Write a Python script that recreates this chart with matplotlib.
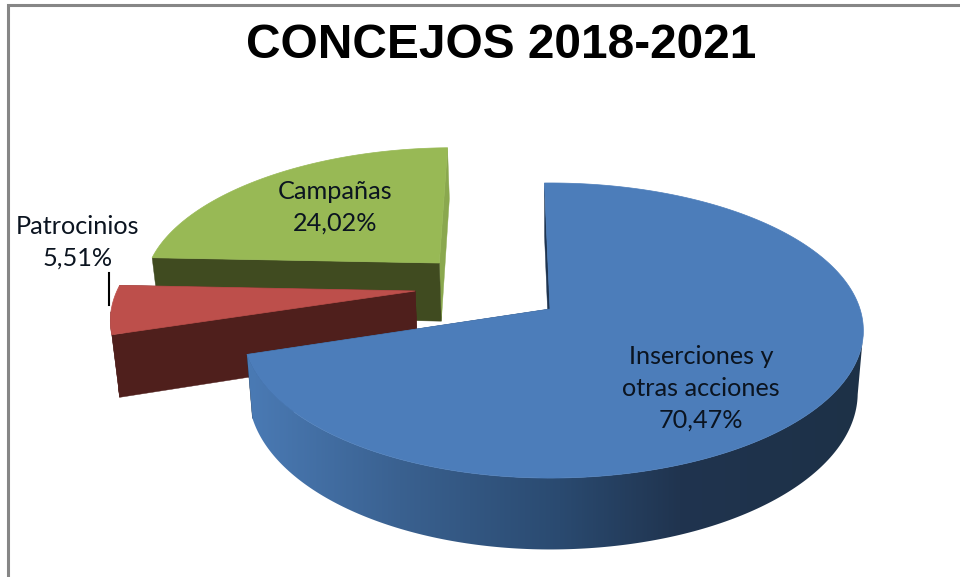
#! /usr/bin/env python3
# -*- coding: utf-8 -*-
'''
exploded 3d looking pie, drawn by hand because
matplotlib has no perspective pie.
'''

import numpy as np
import matplotlib
matplotlib.use('Agg')
import matplotlib.pyplot as plt
from matplotlib.patches import Polygon
from matplotlib.colors import to_rgb

title = 'CONCEJOS 2018-2021'
# clockwise from the top of the pie
categories = ['Inserciones y\notras acciones', 'Patrocinios', 'Campañas']
values = [70.47, 5.51, 24.02]
value_labels = ['70,47%', '5,51%', '24,02%']

top_colors = ['#4c7dba', '#bd4f4b', '#98b955']
wall_colors = ['#1e3450', '#4f1f1c', '#404b20']
end_wall_colors = ['#1e3450', '#4f1f1c', '#8aa84e']
# how far each slice is pulled out of the pie
explode_u = [0.0, -0.452, -0.382]
explode_v = [0.0, 0.127, 0.334]
label_x = [701, 78, 335]
label_y = [388, 242, 207]

# projection of the pie plane to pixels
CX, CY = 550, 309
SX, SY = 310, 144.4
LEFT_SQUEEZE = 0.98
PERSP = 0.1458
DEPTH = 61
BOTTOM_SCALE = 0.982
ROTATION = -1.2

# blue rim shading, left to right on the screen
shade_x = [250, 400, 560, 680, 860]
shade_c = ['#4a7ab4', '#3a6190', '#2a4a70', '#20344f', '#1d3147']


def project(u, v, down=False):
    '''pie plane to pixels, down=True gives the lower rim
    '''
    d = 1 + PERSP * v
    x = SX * np.where(u < 0, u * LEFT_SQUEEZE, u) / d
    y = CY - SY * v / d
    if down:
        x = x * BOTTOM_SCALE
        y = y + DEPTH / d
    return np.column_stack((CX + x, y))


def wall_outline(uu, vv):
    return np.vstack((project(uu, vv), project(uu, vv, down=True)[::-1]))


def flat_wall(ax, uu, vv, color):
    ax.add_patch(Polygon(wall_outline(uu, vv), closed=True, facecolor=color,
                         edgecolor=color, linewidth=0.3))


def shaded_wall(ax, uu, vv):
    xs = np.linspace(230, 880, 651)
    rgb = np.array([to_rgb(c) for c in shade_c])
    grad = np.stack([np.interp(xs, shade_x, rgb[:, i]) for i in range(3)], axis=1)
    # images default to zorder 0, keep this one in drawing order with the patches
    im = ax.imshow(grad[np.newaxis, :, :], extent=[230, 880, 577, 0], aspect='auto',
                   interpolation='bilinear', zorder=1)
    clip = Polygon(wall_outline(uu, vv), closed=True, transform=ax.transData)
    im.set_clip_path(clip)


def draw_slice(ax, start, end, ou, ov, top, side, end_side, shaded):
    t = np.radians(np.linspace(start, end, 300))
    uu = ou + np.sin(t)
    vv = ov + np.cos(t)
    # the cut face at the far end is behind the rim
    flat_wall(ax, np.array([ou, uu[-1]]), np.array([ov, vv[-1]]), end_side)
    # only the part of the rim that faces the viewer
    front = np.cos(t) < -PERSP
    if front.sum() > 1:
        if shaded:
            shaded_wall(ax, uu[front], vv[front])
        else:
            flat_wall(ax, uu[front], vv[front], side)
    flat_wall(ax, np.array([ou, uu[0]]), np.array([ov, vv[0]]), side)
    face = np.vstack((project(np.array([ou]), np.array([ov])), project(uu, vv)))
    ax.fill(face[:, 0], face[:, 1], facecolor=top, edgecolor=top, linewidth=0.5)


def main():
    fig = plt.figure(figsize=(9.6, 5.77), dpi=100)
    ax = fig.add_axes([0, 0, 1, 1])
    ax.axis('off')

    # chart frame, only top and left are in the crop
    ax.plot([8, 8, 960], [577, 5, 5], color='#868686', lw=2.2, solid_joinstyle='miter')

    angles = np.cumsum([0] + values) / np.sum(values) * 360 + ROTATION
    # back slices first
    for i in [2, 1, 0]:
        draw_slice(ax, angles[i], angles[i + 1], explode_u[i], explode_v[i],
                   top_colors[i], wall_colors[i], end_wall_colors[i], i == 0)

    # leader of the small slice
    ax.plot([109, 109], [273, 305], color='black', lw=1.5)

    for name, val, x, y in zip(categories, value_labels, label_x, label_y):
        ax.text(x, y, name + '\n' + val, family='Lato', fontsize=18.2, color='#0b1420',
                ha='center', va='center', linespacing=1.47)

    ax.text(501, 46, title, family='Liberation Sans', weight='bold',
            fontsize=34.5, color='black', ha='center', va='center')

    ax.set_xlim(0, 960)
    ax.set_ylim(577, 0)
    fig.savefig('out.png', dpi=100)


if __name__ == '__main__':
    main()
